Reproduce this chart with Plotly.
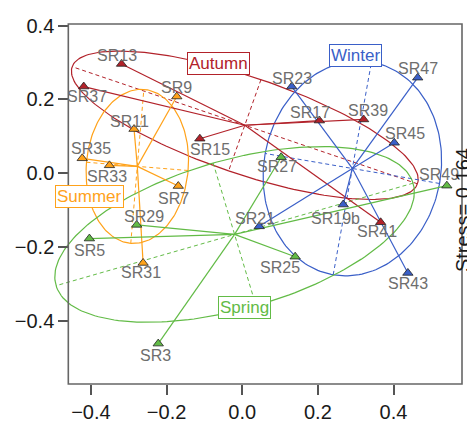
import numpy as np
import plotly.graph_objects as go

# ---------------- data ----------------
seasons = ["Autumn", "Winter", "Summer", "Spring"]

autumn_sites = ["SR13", "SR37", "SR15", "SR17", "SR39", "SR41"]
autumn_x = [-0.319, -0.419, -0.112, 0.204, 0.321, 0.366]
autumn_y = [0.296, 0.235, 0.094, 0.143, 0.146, -0.132]

winter_sites = ["SR23", "SR47", "SR45", "SR19b", "SR43", "SR21"]
winter_x = [0.131, 0.464, 0.402, 0.267, 0.438, 0.045]
winter_y = [0.235, 0.259, 0.083, -0.084, -0.269, -0.143]

summer_sites = ["SR9", "SR11", "SR35", "SR33", "SR7", "SR31"]
summer_x = [-0.173, -0.286, -0.423, -0.351, -0.169, -0.262]
summer_y = [0.208, 0.120, 0.041, 0.022, -0.034, -0.242]

spring_sites = ["SR29", "SR5", "SR3", "SR25", "SR27", "SR49"]
spring_x = [-0.279, -0.404, -0.222, 0.140, 0.103, 0.541]
spring_y = [-0.139, -0.176, -0.460, -0.225, 0.044, -0.033]

stress_value = 0.164

x_tick_values = [-0.4, -0.2, 0.0, 0.2, 0.4]
x_tick_labels = ["\u22120.4", "\u22120.2", "0.0", "0.2", "0.4"]
y_tick_values = [-0.4, -0.2, 0.0, 0.2, 0.4]
y_tick_labels = ["\u22120.4", "\u22120.2", "0.0", "0.2", "0.4"]

# ---------------- styles / layout ----------------
colors = {"Autumn": "#B2222A", "Winter": "#3A5FC8", "Summer": "#FFA21A", "Spring": "#62BB46"}
groups = {
    "Autumn": (autumn_sites, autumn_x, autumn_y),
    "Winter": (winter_sites, winter_x, winter_y),
    "Summer": (summer_sites, summer_x, summer_y),
    "Spring": (spring_sites, spring_x, spring_y),
}
# label offsets in pixels (dx, dy up)
label_offsets = {
    "SR13": (-5, 8), "SR37": (3, -10), "SR15": (10, -11), "SR17": (-9, 8),
    "SR39": (4, 9), "SR41": (-4, -9),
    "SR23": (0, 8), "SR47": (0, 9), "SR45": (11, 9), "SR19b": (-8, -14),
    "SR43": (0, -11), "SR21": (-4, 8),
    "SR9": (0, 9), "SR11": (-5, 8), "SR35": (9, 10), "SR33": (-2, -11),
    "SR7": (-5, -12), "SR31": (-2, -10),
    "SR29": (7, 8), "SR5": (0, -12), "SR3": (-3, -12), "SR25": (-15, -11),
    "SR27": (-4, -9), "SR49": (-8, 11),
}
group_label_pos = {
    "Autumn": (-0.064, 0.2985), "Winter": (0.3007, 0.3176),
    "Summer": (-0.403, -0.062), "Spring": (0.0058, -0.3614),
}
ELLIPSE_SCALE = 1.36
FONT = "Liberation Sans, Arial, Helvetica, sans-serif"
X_RANGE = [-0.5214, 0.5811]
Y_RANGE = [-0.5692, 0.4041]
BOX_LEFT_PAPER = 0.0559

fig = go.Figure()

# ellipses and their axes
for s in seasons:
    _, xs, ys = groups[s]
    pts = np.column_stack([xs, ys])
    c = pts.mean(axis=0)
    cov = np.cov(pts.T)
    vals, vecs = np.linalg.eigh(cov)
    t = np.linspace(0, 2 * np.pi, 200)
    circ = np.vstack([np.cos(t), np.sin(t)])
    ell = (vecs @ np.diag(np.sqrt(vals)) @ circ) * ELLIPSE_SCALE
    fig.add_trace(go.Scatter(x=c[0] + ell[0], y=c[1] + ell[1], mode="lines",
                             line=dict(color=colors[s], width=1.2), hoverinfo="skip",
                             showlegend=False))
    ax_x, ax_y = [], []
    for i in range(2):
        v = vecs[:, i] * np.sqrt(vals[i]) * ELLIPSE_SCALE
        ax_x += [c[0] - v[0], c[0] + v[0], None]
        ax_y += [c[1] - v[1], c[1] + v[1], None]
    fig.add_trace(go.Scatter(x=ax_x, y=ax_y, mode="lines",
                             line=dict(color=colors[s], width=1, dash="4px,3px"),
                             hoverinfo="skip", showlegend=False))

# spiders
for s in seasons:
    _, xs, ys = groups[s]
    cx, cy = float(np.mean(xs)), float(np.mean(ys))
    sx, sy = [], []
    for x, y in zip(xs, ys):
        sx += [cx, x, None]
        sy += [cy, y, None]
    fig.add_trace(go.Scatter(x=sx, y=sy, mode="lines",
                             line=dict(color=colors[s], width=1.2),
                             hoverinfo="skip", showlegend=False))

# points
for s in seasons:
    names, xs, ys = groups[s]
    fig.add_trace(go.Scatter(x=xs, y=ys, mode="markers", name=s, text=names,
                             marker=dict(symbol="triangle-up", size=9, color=colors[s],
                                         line=dict(color="#222222", width=0.8)),
                             showlegend=False, cliponaxis=False))

annotations = []
for s in seasons:
    names, xs, ys = groups[s]
    for n, x, y in zip(names, xs, ys):
        dx, dy = label_offsets[n]
        annotations.append(dict(x=x, y=y, xref="x", yref="y", text=n, showarrow=False,
                                xshift=dx, yshift=dy,
                                font=dict(family=FONT, size=16, color="#6E6E6E")))
for s in seasons:
    gx, gy = group_label_pos[s]
    annotations.append(dict(x=gx, y=gy, xref="x", yref="y", text=s, showarrow=False,
                            font=dict(family=FONT, size=17, color=colors[s]),
                            bgcolor="white", bordercolor=colors[s], borderwidth=1,
                            borderpad=1))
annotations.append(dict(x=1.035, y=0.482, xref="paper", yref="paper",
                        text="Stress= %.3f" % stress_value, textangle=-90,
                        showarrow=False, font=dict(family=FONT, size=20, color="#1A1A1A")))

# the page body has an 8px margin; the figure is sized to fill the window after it
fig.update_layout(
    width=467, height=422,
    margin=dict(l=37, r=13, t=7, b=46),
    plot_bgcolor="white", paper_bgcolor="white",
    annotations=annotations,
    shapes=[dict(type="rect", xref="paper", yref="paper", x0=BOX_LEFT_PAPER, x1=1,
                 y0=0, y1=1, line=dict(color="#666666", width=1.6), layer="above")],
    xaxis=dict(range=X_RANGE, showgrid=False, zeroline=False, showline=False,
               ticks="outside", ticklen=10, tickwidth=1.5, tickcolor="#555555",
               tickvals=x_tick_values, ticktext=x_tick_labels,
               ticklabeloverflow="allow",
               tickfont=dict(family=FONT, size=20, color="#1A1A1A")),
    yaxis=dict(range=Y_RANGE, showgrid=False, zeroline=False, showline=False,
               anchor="free", position=BOX_LEFT_PAPER,
               ticks="outside", ticklen=10, tickwidth=1.5, tickcolor="#555555",
               tickvals=y_tick_values, ticktext=y_tick_labels,
               ticklabeloverflow="allow",
               tickfont=dict(family=FONT, size=20, color="#1A1A1A")),
)

fig.write_html("out.html")
